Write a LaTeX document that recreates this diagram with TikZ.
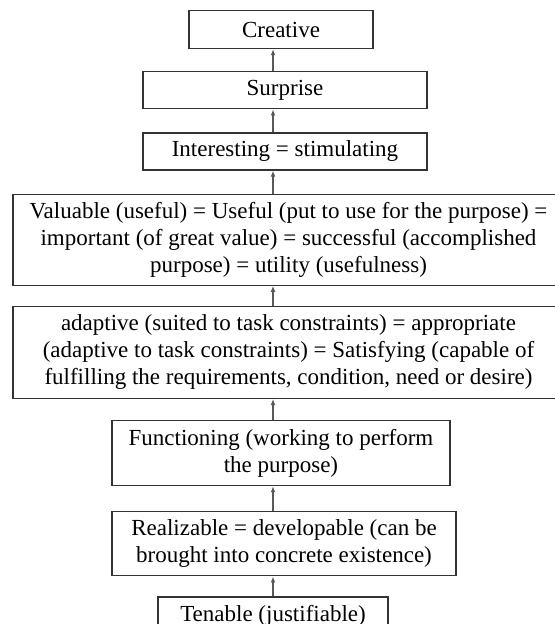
\documentclass[tikz,border=0pt]{standalone}
\usepackage{fontspec}
\setmainfont{Liberation Serif}
\usetikzlibrary{arrows.meta,positioning}
\tikzset{
	levelbox/.style={rectangle, draw=black!80, line width=0.6pt, align=center,
		font=\fontsize{11.5}{13.5}\selectfont, inner sep=2pt},
	uparr/.style={-{Latex[length=3pt,width=2.4pt]}, draw=black!65, line width=0.7pt}
}

\begin{document}
\begin{tikzpicture}[node distance=11pt]
	\useasboundingbox (0,0) rectangle (277pt,-312pt);
	\node[levelbox, anchor=north, minimum width=92pt, minimum height=19pt] (creat) at (140.5pt,-5pt) {Creative};
	\node[levelbox, below=11pt of creat, xshift=2pt, minimum width=142pt, minimum height=18.5pt] (surp) {Surprise};
	\node[levelbox, below=11.5pt of surp, minimum width=142pt, minimum height=18.5pt] (inter) {Interesting = stimulating};
	\node[levelbox, below=11.5pt of inter, xshift=1.75pt, minimum width=275.5pt, minimum height=45.5pt] (valu) {Valuable (useful) = Useful (put to use for the purpose) =\\ important (of great value) = successful (accomplished\\ purpose) = utility (usefulness)};
	\node[levelbox, below=10pt of valu, minimum width=275.5pt, minimum height=46pt] (adapt) {adaptive (suited to task constraints) = appropriate\\ (adaptive to task constraints) = Satisfying (capable of\\ fulfilling the requirements, condition, need or desire)};
	\node[levelbox, below=10.5pt of adapt, xshift=-3.75pt, minimum width=169pt, minimum height=32.5pt] (func) {Functioning (working to perform\\ the purpose)};
	\node[levelbox, below=12.5pt of func, xshift=1.5pt, minimum width=172pt, minimum height=32pt] (realiz) {Realizable = developable (can be\\ brought into concrete existence)};
	\node[levelbox, below=10pt of realiz, xshift=-5.5pt, minimum width=115pt, minimum height=18.5pt] (ten) {Tenable (justifiable)};
	% arrows all run up one vertical line
	\draw[uparr] (ten.north) -- (ten.north |- realiz.south);
	\draw[uparr] (realiz.north -| ten.north) -- (func.south -| ten.north);
	\draw[uparr] (func.north -| ten.north) -- (adapt.south -| ten.north);
	\draw[uparr] (adapt.north -| ten.north) -- (valu.south -| ten.north);
	\draw[uparr] (valu.north -| ten.north) -- (inter.south -| ten.north);
	\draw[uparr] (inter.north -| ten.north) -- (surp.south -| ten.north);
	\draw[uparr] (surp.north -| ten.north) -- (creat.south -| ten.north);
\end{tikzpicture}
\end{document}
